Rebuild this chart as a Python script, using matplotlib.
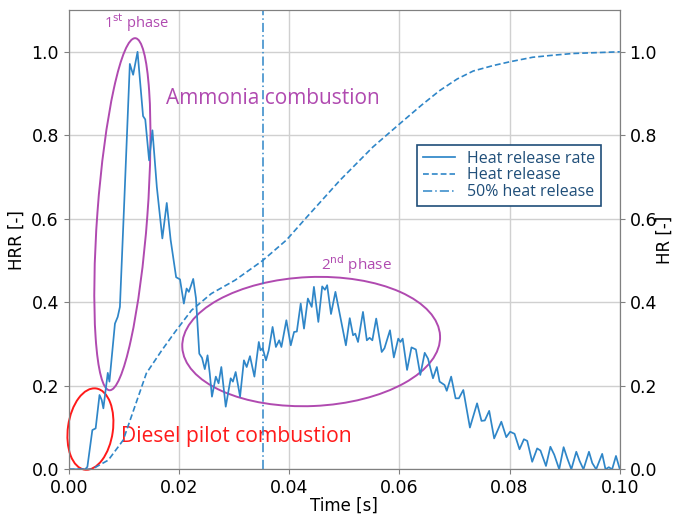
import matplotlib
matplotlib.use("Agg")
import matplotlib.pyplot as plt
from matplotlib.patches import Ellipse
from matplotlib.transforms import ScaledTranslation

# ---------------- data ----------------
hrr_t = [0.0, 0.0030, 0.0034, 0.0043, 0.0049, 0.0056, 0.0060, 0.0063, 0.0071, 0.0074,
         0.0084, 0.0089, 0.0093, 0.0101, 0.0111, 0.0117, 0.0125, 0.0135, 0.0139, 0.0146,
         0.0152, 0.0160, 0.0170, 0.0178, 0.0185, 0.0195, 0.0202, 0.0209, 0.0214, 0.0218,
         0.0222, 0.0226, 0.0231, 0.0237, 0.0242, 0.0247, 0.0252, 0.0256, 0.0260, 0.0267,
         0.0272, 0.0277, 0.0285, 0.0294, 0.0298, 0.0303, 0.0311, 0.0318, 0.0323, 0.0329,
         0.0337, 0.0345, 0.0348, 0.0352, 0.0358, 0.0363, 0.0370, 0.0376, 0.0382, 0.0386,
         0.0395, 0.0403, 0.0409, 0.0414, 0.0421, 0.0427, 0.0434, 0.0441, 0.0445, 0.0453,
         0.0460, 0.0465, 0.0469, 0.0476, 0.0484, 0.0493, 0.0503, 0.0510, 0.0516, 0.0520,
         0.0525, 0.0534, 0.0541, 0.0546, 0.0551, 0.0558, 0.0568, 0.0573, 0.0583, 0.0590,
         0.0598, 0.0602, 0.0606, 0.0614, 0.0622, 0.0630, 0.0638, 0.0646, 0.0652, 0.0661,
         0.0668, 0.0673, 0.0682, 0.0686, 0.0694, 0.0702, 0.0708, 0.0716, 0.0728, 0.0741,
         0.0749, 0.0755, 0.0763, 0.0772, 0.0785, 0.0794, 0.0801, 0.0809, 0.0818, 0.0826,
         0.0832, 0.0841, 0.0850, 0.0856, 0.0866, 0.0874, 0.0881, 0.0890, 0.0898, 0.0905,
         0.0912, 0.0921, 0.0927, 0.0934, 0.0944, 0.0950, 0.0957, 0.0968, 0.0974, 0.0980,
         0.0986, 0.0993, 0.1000]
hrr_v = [0.0, 0.0, 0.006, 0.094, 0.098, 0.178, 0.166, 0.146, 0.231, 0.210,
         0.349, 0.365, 0.389, 0.644, 0.971, 0.945, 1.000, 0.846, 0.838, 0.740,
         0.812, 0.676, 0.553, 0.638, 0.550, 0.460, 0.455, 0.397, 0.433, 0.425,
         0.440, 0.456, 0.410, 0.277, 0.267, 0.240, 0.273, 0.230, 0.174, 0.222,
         0.206, 0.245, 0.150, 0.218, 0.210, 0.233, 0.174, 0.261, 0.245, 0.271,
         0.222, 0.305, 0.285, 0.290, 0.261, 0.285, 0.341, 0.293, 0.309, 0.293,
         0.357, 0.297, 0.329, 0.330, 0.397, 0.337, 0.409, 0.389, 0.437, 0.353,
         0.438, 0.430, 0.441, 0.372, 0.425, 0.365, 0.297, 0.362, 0.321, 0.325,
         0.305, 0.377, 0.309, 0.315, 0.309, 0.361, 0.281, 0.290, 0.333, 0.268,
         0.313, 0.305, 0.313, 0.238, 0.292, 0.287, 0.226, 0.279, 0.265, 0.218,
         0.245, 0.210, 0.202, 0.188, 0.222, 0.170, 0.170, 0.190, 0.100, 0.158,
         0.116, 0.117, 0.140, 0.074, 0.114, 0.077, 0.090, 0.085, 0.048, 0.072,
         0.068, 0.018, 0.050, 0.045, 0.008, 0.054, 0.035, 0.000, 0.053, 0.025,
         0.000, 0.042, 0.020, 0.000, 0.042, 0.015, 0.000, 0.037, 0.000, 0.005,
         0.000, 0.032, 0.000]

hr_t = [0.0, 0.0042, 0.0072, 0.0099, 0.0120, 0.0141, 0.0169, 0.0193, 0.0223, 0.0259,
        0.0302, 0.0352, 0.0395, 0.0432, 0.0492, 0.0552, 0.0601, 0.0640, 0.0673, 0.0705,
        0.0734, 0.0770, 0.0800, 0.0842, 0.0880, 0.0915, 0.1000]
hr_v = [0.0, 0.0, 0.022, 0.070, 0.150, 0.230, 0.285, 0.329, 0.381, 0.421,
        0.453, 0.500, 0.549, 0.604, 0.692, 0.772, 0.828, 0.872, 0.907, 0.935,
        0.954, 0.967, 0.976, 0.987, 0.992, 0.996, 1.000]

t50 = 0.0352

x_ticks = [0.00, 0.02, 0.04, 0.06, 0.08, 0.10]
y_ticks = [0.0, 0.2, 0.4, 0.6, 0.8, 1.0]

# ---------------- styling ----------------
blue = '#2f86c8'
navy = '#1f4e79'
purple = '#b04ab0'
red = '#ff1a1a'

plt.rcParams['font.family'] = ['DejaVu Sans']
fig = plt.figure(figsize=(6.73, 5.16), dpi=100)
ax = fig.add_axes([0.102, 0.0905, 0.819, 0.890])
ax2 = ax.twinx()

l1, = ax.plot(hrr_t, hrr_v, color=blue, lw=1.25, label='Heat release rate')
l2, = ax2.plot(hr_t, hr_v, color=blue, lw=1.2, ls=(0, (3.5, 1.8)), label='Heat release')
l3 = ax2.axvline(t50, color=blue, lw=1.1, ls=(0, (6, 2, 1, 2)), label='50% heat release')

for a in (ax, ax2):
    a.set_xlim(0, 0.1)
    a.set_ylim(0, 1.1)
    a.set_yticks(y_ticks)
    a.set_yticklabels([f'{v:.1f}' for v in y_ticks])
    for s in a.spines.values():
        s.set_color('#808080')
    a.tick_params(labelsize=12.5, colors='#808080', labelcolor='black')
ax.set_xticks(x_ticks)
ax.set_xticklabels([f'{v:.2f}' for v in x_ticks])
ax.grid(True, color='#d0d0d0', lw=1.0)
ax.set_axisbelow(True)
ax.set_xlabel('Time [s]', fontsize=12, labelpad=0)
ax.set_ylabel('HRR [-]', fontsize=12)
ax2.set_ylabel('HR [-]', fontsize=12, labelpad=-1)

# annotation ellipses (sizes in inches, centred on data points)
def ell(cx, cy, w, h, ang, col):
    tr = fig.dpi_scale_trans + ScaledTranslation(cx, cy, ax.transData)
    e = Ellipse((0, 0), w, h, angle=ang, transform=tr, fill=False, ec=col, lw=1.4, clip_on=False)
    ax.add_patch(e)

ell(0.00975, 0.611, 0.50, 3.53, -4.2, purple)
ell(0.00395, 0.0964, 0.45, 0.82, -8, red)
ell(0.0440, 0.306, 2.58, 1.29, 2.5, purple)

tfont = ['Open Sans', 'DejaVu Sans']
ax.text(0.0122, 1.07, r'1$^{\mathrm{st}}$ phase', color=purple, fontsize=10.5, ha='center', va='center', family=tfont)
ax.text(0.0522, 0.491, r'2$^{\mathrm{nd}}$ phase', color=purple, fontsize=11, ha='center', va='center', family=tfont)
ax.text(0.0177, 0.887, 'Ammonia combustion', color=purple, fontsize=15, ha='left', va='center', family=tfont)
ax.text(0.0095, 0.078, 'Diesel pilot combustion', color=red, fontsize=15.2, ha='left', va='center', family=tfont)

leg = ax2.legend(handles=[l1, l2, l3], loc='upper left', bbox_to_anchor=(0.632, 0.706),
                 borderaxespad=0, fancybox=False, framealpha=1, edgecolor=navy,
                 handlelength=2.0, borderpad=0.35, labelspacing=0.05, prop={'family': tfont, 'size': 11.5})
leg.get_frame().set_linewidth(1.2)
for t in leg.get_texts():
    t.set_color(navy)

fig.savefig('out.png', dpi=100)
